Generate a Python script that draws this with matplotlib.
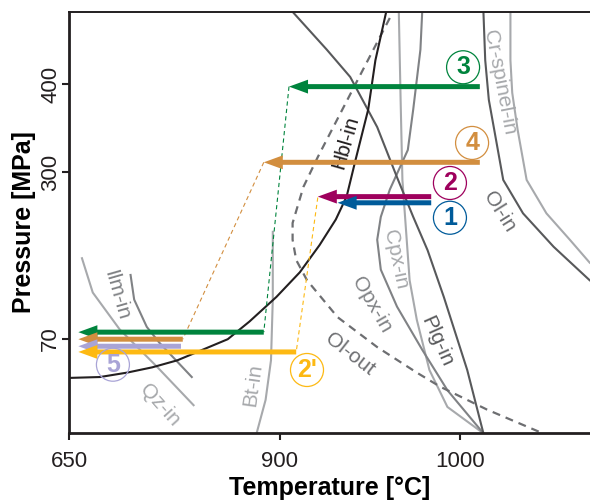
import matplotlib
matplotlib.use('Agg')
import matplotlib.pyplot as plt

plt.rcParams['font.family'] = ['Liberation Sans', 'DejaVu Sans']

# 颜色
BLACK = '#231F20'
DARK = '#58595B'
MID = '#808285'
LIGHT = '#A7A9AC'
GREEN = '#00843D'
ORANGE = '#D28E3F'
MAGENTA = '#9E005D'
BLUE = '#005B9A'
YELLOW = '#FDB913'
LAVENDER = '#A9A4D6'

# ---------------------- 相边界（示意图坐标：T/°C, P/MPa） ----------------------
hbl_T = [783, 800, 815, 829, 843, 857, 871, 883, 898, 911, 922, 931, 937, 942, 949, 953, 959]
hbl_P = [66, 67, 72, 78, 86, 98, 110, 130, 158, 186, 217, 246, 272, 314, 371, 427, 482]

olout_T = [961, 944, 921, 913, 907, 907, 909, 915, 932, 954, 976, 989, 1015, 1046]
olout_P = [475, 408, 317, 283, 242, 223, 200, 177, 135, 101, 72, 56, 30, 3]

plg_T = [907, 926, 939, 954, 965, 974, 982, 991, 1004, 1013]
plg_P = [482, 439, 408, 351, 294, 249, 211, 158, 75, 3]

cpx_T = [966, 967, 968, 970, 972, 976, 983, 993, 1013]
cpx_P = [482, 382, 291, 234, 177, 132, 75, 33, 3]

opx_T = [979, 978, 974, 971, 961, 956, 954, 956, 965, 979, 993, 1013]
opx_P = [482, 439, 371, 325, 280, 249, 223, 189, 147, 98, 52, 3]

olin_T = [1013, 1014, 1016, 1019, 1024, 1035, 1052, 1072]
olin_P = [482, 427, 382, 348, 291, 253, 215, 177]

crsp_T = [1028, 1028, 1029, 1032, 1037, 1048, 1061, 1072]
crsp_P = [482, 427, 390, 348, 291, 253, 223, 197]

bt_T = [896, 896, 895, 892, 887]
bt_P = [232, 155, 86, 41, 3]

ilm_T = [817, 819, 826, 833, 851]
ilm_P = [183, 155, 124, 106, 67]

qz_T = [790, 796, 811, 832, 852]
qz_P = [202, 163, 121, 78, 35]

# 曲线标注
label_text = ['Hbl-in', 'Ol-out', 'Opx-in', 'Cpx-in', 'Plg-in', 'Ol-in',
              'Cr-spinel-in', 'Bt-in', 'Ilm-in', 'Qz-in']
label_T = [936.5, 939, 951, 964, 987, 1022, 1022, 885, 809, 833]
label_P = [334, 93, 149, 200, 107, 255, 402, 58, 160, 35]
label_rot = [74, -38, -60, -78, -66, -58, -79, 82, -74, -48]
label_color = [BLACK, '#6D6E71', MID, LIGHT, DARK, '#6D6E71', LIGHT, LIGHT, MID, LIGHT]

# ---------------------- 冷却路径 ----------------------
# 高压段箭头：起点T, 终点T, 压力
high_T0 = [1011, 1011, 984, 984]
high_T1 = [905, 891, 921, 932]
high_P = [397, 311, 272, 265]
high_color = [GREEN, ORANGE, MAGENTA, BLUE]

# 低压段箭头
low_T0 = [891, 846, 845, 909]
low_T1 = [788, 788, 788, 788]
low_P = [118, 110, 102, 95.5]
low_color = [GREEN, ORANGE, LAVENDER, YELLOW]

# 减压虚线（上端T,P -> 下端T,P）
dash_T = [(905, 891), (891, 846), (921, 909)]
dash_P = [(397, 118), (311, 110), (271, 95.5)]
dash_color = [GREEN, ORANGE, YELLOW]

# 圆圈编号
circle_text = ['3', '4', '2', '1', '5', "2'"]
circle_T = [1001.7, 1006.7, 994.4, 994.4, 807.2, 915]
circle_P = [419, 333, 287.5, 248, 81, 75]
circle_color = [GREEN, ORANGE, MAGENTA, BLUE, LAVENDER, YELLOW]

fig = plt.figure(figsize=(5.9, 5.01), dpi=100)
ax = fig.add_axes([69 / 590, 68 / 501, 521 / 590, 421 / 501])

lw = 1.5
ax.plot(ilm_T, ilm_P, color=MID, lw=lw)
ax.plot(qz_T, qz_P, color=LIGHT, lw=lw)
ax.plot(bt_T, bt_P, color=LIGHT, lw=lw)
ax.plot(cpx_T, cpx_P, color=LIGHT, lw=lw)
ax.plot(crsp_T, crsp_P, color=LIGHT, lw=lw)
ax.plot(opx_T, opx_P, color=MID, lw=lw)
ax.plot(plg_T, plg_P, color=DARK, lw=lw)
ax.plot(olin_T, olin_P, color=DARK, lw=lw)
ax.plot(olout_T, olout_P, color='#6D6E71', lw=1.6, dashes=(3.6, 2.7))
ax.plot(hbl_T, hbl_P, color=BLACK, lw=1.5)

for t, x, y, r, c in zip(label_text, label_T, label_P, label_rot, label_color):
    ax.text(x, y, t, rotation=r, color=c, fontsize=15, ha='center', va='center',
            rotation_mode='anchor')

for (t0, t1), (p0, p1), c in zip(dash_T, dash_P, dash_color):
    ax.plot([t0, t1], [p0, p1], color=c, lw=0.8, dashes=(3.8, 2.9))

arrow_style = 'simple,head_length=1.37,head_width=1.0,tail_width=0.36'
for t0, t1, p, c in list(zip(high_T0, high_T1, high_P, high_color)) + \
        list(zip(low_T0, low_T1, low_P, low_color)):
    ax.annotate('', xy=(t1, p), xytext=(t0, p),
                arrowprops=dict(arrowstyle=arrow_style, fc=c, ec='none', lw=0,
                                mutation_scale=10, shrinkA=0, shrinkB=0))

ax.scatter(circle_T, circle_P, s=565, facecolors='none', edgecolors=circle_color,
           linewidths=0.9, zorder=5)
for t, x, y, c in zip(circle_text, circle_T, circle_P, circle_color):
    ax.text(x, y, t, color=c, fontsize=18, fontweight='bold', ha='center',
            va='center', zorder=6)

ax.set_xlim(782.8, 1072.2)
ax.set_ylim(3.4, 481.8)
ax.set_xticks([782.8, 900, 1000])
ax.set_xticklabels(['650', '900', '1000'])
ax.set_yticks([110.2, 300, 400])
ax.set_yticklabels(['70', '300', '400'], rotation=90, va='center')

ax.spines['right'].set_visible(False)
for s in ['left', 'bottom']:
    ax.spines[s].set_linewidth(2.0)
    ax.spines[s].set_color(BLACK)
ax.spines['top'].set_linewidth(1.4)
ax.spines['top'].set_color(BLACK)
ax.tick_params(direction='out', length=5, width=1.5, color=BLACK, labelsize=16,
               labelcolor=BLACK)
ax.tick_params(axis='y', pad=0.5)
ax.tick_params(axis='x', pad=8)

ax.set_xlabel('Temperature [°C]', fontsize=18, fontweight='bold', labelpad=3)
ax.set_ylabel('Pressure [MPa]', fontsize=18, fontweight='bold', labelpad=3)

fig.savefig('out.png', dpi=100)
